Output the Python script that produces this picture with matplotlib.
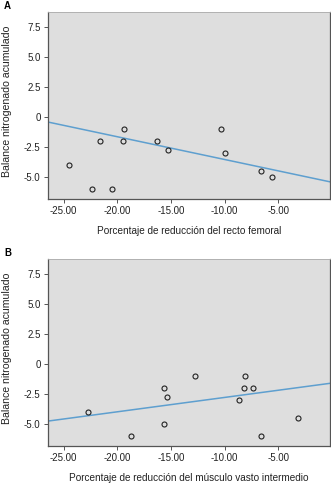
import matplotlib
matplotlib.use("Agg")
import matplotlib.pyplot as plt
import numpy as np

plt.rcParams['font.family'] = ['Liberation Sans', 'DejaVu Sans']

# Panel A: recto femoral
a_x = [-24.47, -22.33, -21.59, -20.53, -19.51, -19.36, -16.26, -15.29, -10.33, -9.96, -6.58, -5.59]
a_y = [-4.0, -6.0, -2.0, -6.0, -2.0, -1.0, -2.0, -2.8, -1.0, -3.0, -4.5, -5.0]
a_fit = (-5.456, -0.190)   # intercept, pendiente

# Panel B: vasto intermedio
b_x = [-22.71, -18.77, -15.64, -15.36, -15.64, -12.75, -8.66, -8.10, -8.16, -7.33, -6.58, -3.20]
b_y = [-4.0, -6.0, -2.0, -2.8, -5.0, -1.0, -3.0, -1.0, -2.0, -2.0, -6.0, -4.5]
b_fit = (-1.597, 0.120)

x_ticks = [-25, -20, -15, -10, -5]
y_ticks = [-5.0, -2.5, 0, 2.5, 5.0, 7.5]
y_tick_labels = ["-5.0", "-2.5", "0", "2.5", "5.0", "7.5"]
ylabel = "Balance nitrogenado acumulado"

W, H = 331, 486
fig = plt.figure(figsize=(W / 100, H / 100), dpi=100)

def panel(rect, xs, ys, fit, xlabel, letter):
    ax = fig.add_axes(rect)
    ax.set_facecolor('#dedede')
    xlim = (-26.5, -0.2)
    ax.set_xlim(*xlim)
    ax.set_ylim(-6.85, 8.75)
    lx = np.array(xlim)
    ax.plot(lx, fit[0] + fit[1] * lx, color='#5e9fcf', lw=1.1, zorder=2)
    ax.plot(xs, ys, 'o', mfc='none', mec='#222222', ms=3.6, mew=0.8, zorder=3)
    ax.set_xticks(x_ticks)
    ax.set_xticklabels(["%.2f" % v for v in x_ticks])
    ax.set_yticks(y_ticks)
    ax.set_yticklabels(y_tick_labels)
    ax.tick_params(direction='out', length=3, width=0.7, color='#555555',
                   labelsize=7, labelcolor='#222222', pad=2)
    for s in ['left', 'bottom', 'right']:
        ax.spines[s].set_color('#555555')
        ax.spines[s].set_linewidth(0.9)
    ax.spines['top'].set_color('#aaaaaa')
    ax.spines['top'].set_linewidth(0.6)
    ax.set_xlabel(xlabel, fontsize=7.2, color='#222222', labelpad=7)
    top = rect[1] + rect[3]
    fig.text(7 / W, (rect[1] + top) / 2 + 4 / H, ylabel, rotation=90, fontsize=7.6,
             color='#222222', ha='center', va='center')
    fig.text(4 / W, top + 0.013, letter, fontsize=7, fontweight='bold',
             ha='left', va='center')
    return ax

panel([47.5 / W, 1 - 199 / H, 282.5 / W, 187 / H], a_x, a_y, a_fit,
      "Porcentaje de reducción del recto femoral", "A")
panel([47.5 / W, 1 - 446 / H, 282.5 / W, 187 / H], b_x, b_y, b_fit,
      "Porcentaje de reducción del músculo vasto intermedio", "B")

fig.savefig("out.png", dpi=100)
